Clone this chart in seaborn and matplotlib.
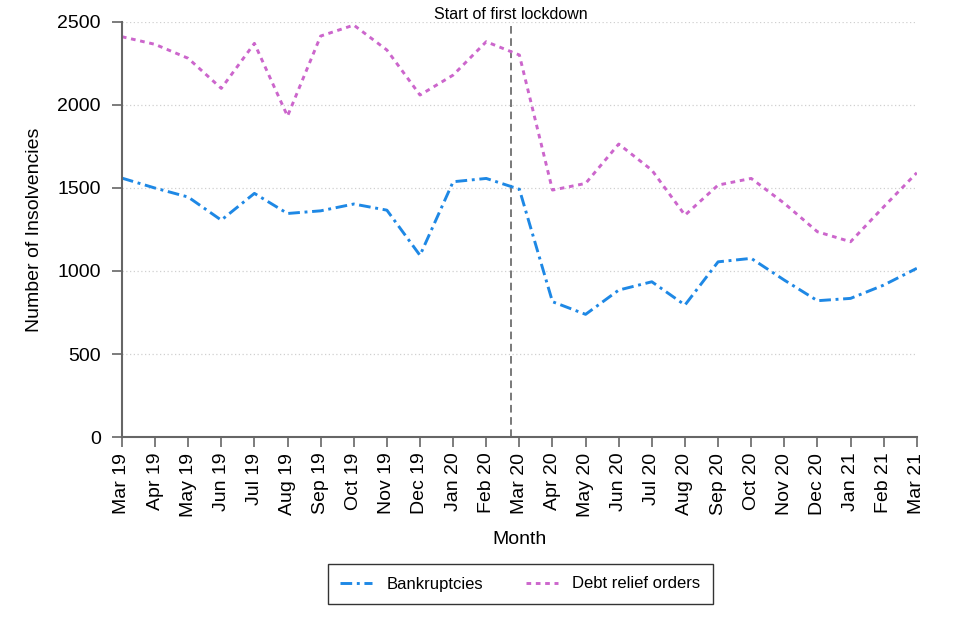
import pandas as pd
import numpy as np
import matplotlib
matplotlib.use("Agg")
import matplotlib.pyplot as plt
import seaborn as sns

# Monthly values
months = ["Mar 19", "Apr 19", "May 19", "Jun 19", "Jul 19", "Aug 19", "Sep 19",
          "Oct 19", "Nov 19", "Dec 19", "Jan 20", "Feb 20", "Mar 20", "Apr 20",
          "May 20", "Jun 20", "Jul 20", "Aug 20", "Sep 20", "Oct 20", "Nov 20",
          "Dec 20", "Jan 21", "Feb 21", "Mar 21"]
bankruptcies = [1559, 1499, 1445, 1306, 1467, 1346, 1362, 1403, 1366, 1094, 1537,
                1557, 1492, 815, 739, 885, 935, 795, 1055, 1076, 945, 821, 835,
                915, 1016]
debt_relief_orders = [2410, 2364, 2280, 2099, 2370, 1932, 2414, 2480, 2330, 2059,
                      2179, 2380, 2300, 1487, 1527, 1764, 1607, 1336, 1517, 1557,
                      1407, 1236, 1176, 1386, 1591]
lockdown_pos = 11.75
y_ticks = [0, 500, 1000, 1500, 2000, 2500]

sns.set_style("white")
plt.rcParams["font.family"] = ["Liberation Sans", "DejaVu Sans"]
plt.rcParams["text.color"] = "black"
plt.rcParams["axes.labelcolor"] = "black"
plt.rcParams["xtick.labelcolor"] = "black"
plt.rcParams["ytick.labelcolor"] = "black"

df = pd.DataFrame({
    "idx": list(range(len(months))) * 2,
    "value": bankruptcies + debt_relief_orders,
    "series": ["Bankruptcies"] * len(months) + ["Debt relief orders"] * len(months),
})

fig = plt.figure(figsize=(9.6, 6.4), dpi=100)
ax = fig.add_axes([0.127, 0.317, 0.828, 0.649])

palette = {"Bankruptcies": "#1E88E5", "Debt relief orders": "#CC66CC"}
dashes = {"Bankruptcies": (4, 1.6, 1, 1.6), "Debt relief orders": (1.6, 1.6)}
sns.lineplot(data=df, x="idx", y="value", hue="series", style="series",
             palette=palette, dashes=dashes, linewidth=2.1, ax=ax, legend=True)

# lockdown marker
ax.axvline(lockdown_pos, color="#555555", linestyle=(0, (5, 3)), linewidth=1.1, zorder=1)
ax.text(lockdown_pos, 2515, "Start of first lockdown", ha="center", va="baseline",
        fontsize=11.5, color="black")

ax.set_xlim(0, len(months) - 1)
ax.set_ylim(0, 2500)
ax.set_xticks(range(len(months)))
ax.set_xticklabels(months, rotation=90, fontsize=14)
ax.set_yticks(y_ticks)
ax.set_yticklabels([str(v) for v in y_ticks], fontsize=14)

for v in y_ticks[1:]:
    ax.axhline(v, color="#d0d0d0", linestyle=(0, (1, 2)), linewidth=0.9, zorder=0)

for side in ["top", "right"]:
    ax.spines[side].set_visible(False)
for side in ["left", "bottom"]:
    ax.spines[side].set_color("#666666")
    ax.spines[side].set_linewidth(1.5)
ax.tick_params(axis="both", direction="out", length=7.2, width=1.2, color="#666666",
               labelcolor="black", left=True, bottom=True)
ax.tick_params(axis="y", pad=8)
ax.tick_params(axis="x", pad=4)

ax.set_xlabel("Month", fontsize=14, labelpad=10, color="black")
ax.set_ylabel("Number of Insolvencies", fontsize=14, labelpad=10, color="black")

handles, labels = ax.get_legend_handles_labels()
ax.legend_.remove()
leg = fig.legend(handles, labels, loc="center", bbox_to_anchor=(0.542, 0.0875),
                 ncol=2, fontsize=12, frameon=True, fancybox=False,
                 edgecolor="black", handlelength=1.9, handletextpad=0.85,
                 columnspacing=2.6, borderpad=0.75, borderaxespad=0)
leg.get_frame().set_linewidth(1)
for t in leg.get_texts():
    t.set_color("black")

fig.savefig("out.png", dpi=100)
